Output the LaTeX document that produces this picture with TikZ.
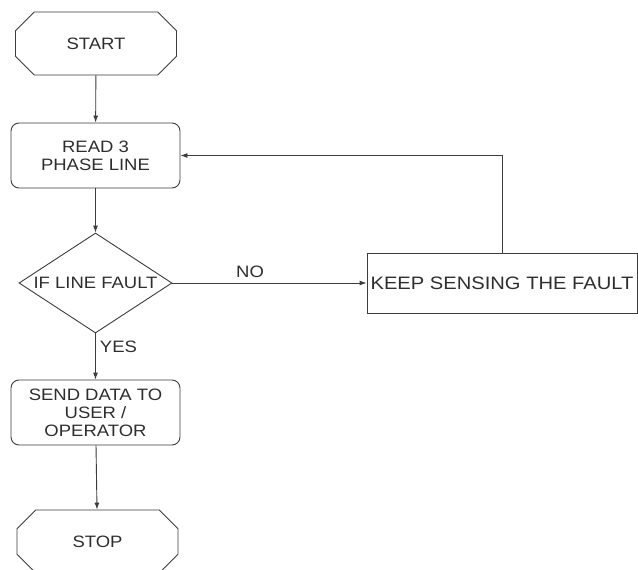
\documentclass[tikz,border=0pt]{standalone}
\usepackage{fontspec}
\setmainfont{Liberation Sans}[FakeStretch=1.12]
\usepackage{tikz}
\usetikzlibrary{arrows.meta,shapes.geometric,shapes.misc,calc}
\definecolor{linegray}{HTML}{3C3C3C}
\definecolor{textgray}{HTML}{2E2E2E}

\begin{document}
\begin{tikzpicture}[x=1pt,y=-1pt,line width=0.9pt,
  every node/.style={text=textgray,font=\fontsize{16.5}{18}\selectfont,align=center},
  terminal/.style={draw=linegray,chamfered rectangle,chamfered rectangle xsep=20pt,
    chamfered rectangle ysep=13pt,minimum width=161pt,minimum height=63pt,inner sep=0pt},
  process/.style={draw=linegray,rounded corners=8pt,minimum width=169pt,minimum height=65pt,inner sep=0pt},
  decision/.style={draw=linegray,diamond,minimum width=153pt,minimum height=100pt,inner sep=0pt},
  plainbox/.style={draw=linegray,minimum width=270pt,minimum height=60pt,inner sep=0pt,
    font=\fontsize{18}{20}\selectfont},
  flow/.style={draw=linegray,-{Latex[length=7pt,width=5pt]}}]
  % Page frame
  \useasboundingbox (0,0) rectangle (638,570);
  \clip (0,0) rectangle (638,570);
  % Main column
  \node[terminal] (start) at (96,43.5) {START};
  \node[process] (read) at (95.5,155.5) {READ 3\\PHASE LINE};
  \node[decision,label={[name=faulttext]center:IF LINE FAULT}] (fault) at (95.5,283) {};
  \node[process] (send) at (95.5,412.5) {SEND DATA TO\\USER /\\OPERATOR};
  \node[terminal] (stop) at (97.5,541.5) {STOP};
  % Side branch
  \node[plainbox] (keep) at (502,283) {KEEP SENSING THE FAULT};
  % Arrows
  \draw[flow] (start) -- (read);
  \draw[flow] (read) -- (fault);
  \draw[flow] (fault.south) -- (send.north) node[pos=0.3,right,inner sep=4pt] (yes) {YES};
  \draw[flow] (send) -- (stop);
  \draw[flow] (fault.east) -- (keep.west) node[pos=0.4,above,inner sep=5pt] (no) {NO};
  \draw[flow] (keep.north) |- (read.east);
\end{tikzpicture}
\end{document}
